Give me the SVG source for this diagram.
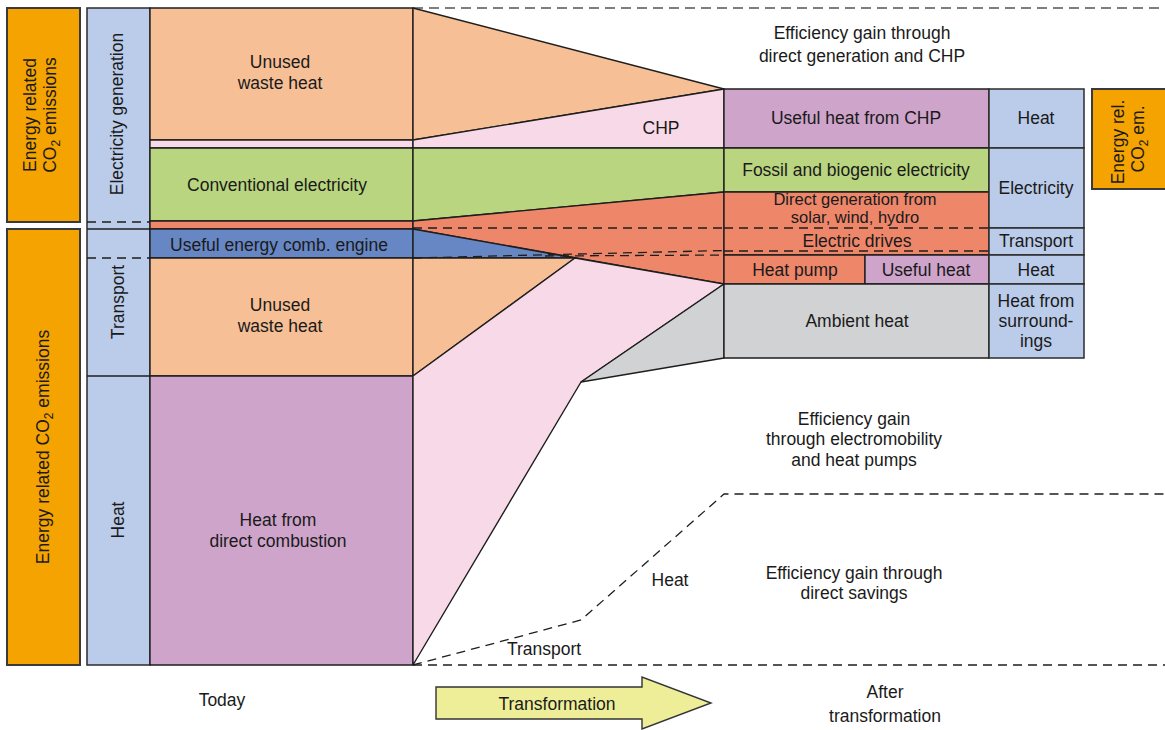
<svg xmlns="http://www.w3.org/2000/svg" width="1165" height="730" viewBox="0 0 1165 730">
<style>
text{font-family:"Liberation Sans",Arial,sans-serif;font-size:17.5px;fill:#1a1a1a;text-anchor:middle}
.tight{font-size:16.5px}
.org{fill:#F4A300;stroke:#3a3a3a;stroke-width:2}
.cat{fill:#BACCE9;stroke:#2b2b2b;stroke-width:1.5}
.b{stroke:#1e1e1e;stroke-width:1.4;stroke-linejoin:round}
.peach{fill:#F6BF95}
.pink{fill:#F8D9E7}
.green{fill:#B9D57F}
.red{fill:#EE866A}
.blue{fill:#6786C4}
.purple{fill:#CEA4CA}
.gray{fill:#D1D2D4}
.dash{fill:none;stroke:#1e1e1e;stroke-width:1.3;stroke-dasharray:9,6}
.gdash{fill:none;stroke:#555;stroke-width:1.5;stroke-dasharray:10,6}
.line{fill:none;stroke:#1e1e1e;stroke-width:1.4}
</style>
<rect width="1165" height="730" fill="#fff"/>

<!-- background dashed guide lines -->
<g id="guides">
<line class="gdash" x1="413" y1="8" x2="1165" y2="8"/>
<polyline class="dash" points="413,665 581,620 724,494 1165,494"/>
<line class="dash" x1="413" y1="665" x2="1165" y2="665"/>
</g>

<!-- left emission boxes -->
<g id="co2-left-top">
<rect class="org" x="7" y="8" width="73" height="214"/>
<text transform="translate(36,115) rotate(-90)">Energy related</text>
<text transform="translate(56,115) rotate(-90)">CO<tspan dy="4" font-size="12">2</tspan><tspan dy="-4"> emissions</tspan></text>
</g>
<g id="co2-left-bottom">
<rect class="org" x="7" y="229" width="73" height="436"/>
<text transform="translate(49,447) rotate(-90)">Energy related CO<tspan dy="4" font-size="12">2</tspan><tspan dy="-4"> emissions</tspan></text>
</g>

<!-- sector column -->
<g id="sectors">
<rect class="cat" x="87" y="8" width="63" height="657"/>
<line class="dash" x1="87" y1="222" x2="150" y2="222"/>
<line class="line" x1="87" y1="229" x2="150" y2="229"/>
<line class="dash" x1="87" y1="258" x2="150" y2="258"/>
<line class="line" x1="87" y1="376" x2="150" y2="376"/>
<text transform="translate(123,114) rotate(-90)">Electricity generation</text>
<text transform="translate(124,302) rotate(-90)">Transport</text>
<text transform="translate(124,520) rotate(-90)">Heat</text>
</g>

<!-- today column -->
<g id="today-waste-heat-elec"><rect class="b peach" x="150" y="8" width="263" height="132"/>
<text x="280" y="68">Unused</text><text x="280" y="89">waste heat</text></g>
<g id="today-chp"><rect class="b pink" x="150" y="140" width="263" height="8"/></g>
<g id="today-conv-elec"><rect class="b green" x="150" y="148" width="263" height="73"/>
<text x="277" y="191">Conventional electricity</text></g>
<g id="today-renew"><rect class="b red" x="150" y="221" width="263" height="8"/></g>
<g id="today-comb-engine"><rect class="b blue" x="150" y="229" width="263" height="29"/>
<text x="279" y="251">Useful energy comb. engine</text></g>
<g id="today-waste-heat-transport"><rect class="b peach" x="150" y="258" width="263" height="118"/>
<text x="280" y="311">Unused</text><text x="280" y="332">waste heat</text></g>
<g id="today-direct-heat"><rect class="b purple" x="150" y="376" width="263" height="289"/>
<text x="278" y="526">Heat from</text><text x="278" y="547">direct combustion</text></g>

<!-- flows -->
<g id="connectors">
<polygon class="b peach" points="413,8 724,89 413,140"/>
<polygon class="b pink" points="413,140 724,89 724,148 413,148"/>
<text x="661" y="134">CHP</text>
<polygon class="b green" points="413,148 724,148 724,192 413,221"/>
<polygon class="b red" points="413,221 724,192 724,284 413,229"/>
<polygon class="b blue" points="413,229 575,258 413,258"/>
<polygon class="b peach" points="413,258 575,258 413,376"/>
<polygon class="b pink" points="413,376 575,258 724,284 581,382 413,665"/>
<polygon class="b gray" points="724,284 724,358 581,382"/>
<line class="dash" x1="413" y1="228" x2="724" y2="228"/>
<line class="dash" x1="413" y1="258" x2="724" y2="250.5"/>
<line class="dash" x1="545" y1="256" x2="724" y2="255"/>
</g>

<!-- after column -->
<g id="after-chp-heat"><rect class="b purple" x="724" y="89" width="265" height="59"/>
<text x="856" y="124">Useful heat from CHP</text></g>
<g id="after-fossil-elec"><rect class="b green" x="724" y="148" width="265" height="44"/>
<text x="856" y="176">Fossil and biogenic electricity</text></g>
<g id="after-renew"><rect class="b red" x="724" y="192" width="265" height="63"/>
<text class="tight" x="855" y="205">Direct generation from</text><text class="tight" x="855" y="222.5">solar, wind, hydro</text>
<line class="dash" x1="724" y1="228" x2="989" y2="228"/>
<line class="dash" x1="724" y1="251" x2="989" y2="251"/>
<text x="857" y="247">Electric drives</text></g>
<g id="after-heat-pump"><rect class="b red" x="724" y="255" width="141" height="29"/>
<text x="795" y="276">Heat pump</text></g>
<g id="after-useful-heat"><rect class="b purple" x="865" y="255" width="124" height="29"/>
<text x="926" y="276">Useful heat</text></g>
<g id="after-ambient"><rect class="b gray" x="724" y="284" width="265" height="74"/>
<text x="857" y="327">Ambient heat</text></g>

<!-- right sector labels -->
<g id="label-heat-1"><rect class="cat" x="989" y="89" width="95" height="59"/><text x="1036" y="124">Heat</text></g>
<g id="label-electricity"><rect class="cat" x="989" y="148" width="95" height="80"/><text x="1036" y="194">Electricity</text></g>
<g id="label-transport"><rect class="cat" x="989" y="228" width="95" height="27"/><text x="1036" y="247">Transport</text></g>
<g id="label-heat-2"><rect class="cat" x="989" y="255" width="95" height="29"/><text x="1036" y="276">Heat</text></g>
<g id="label-surroundings"><rect class="cat" x="989" y="284" width="95" height="74"/>
<text x="1036" y="307">Heat from</text><text x="1036" y="327">surround-</text><text x="1036" y="347">ings</text></g>

<g id="co2-right">
<rect class="org" x="1092" y="89" width="80" height="100"/>
<text transform="translate(1124,142) rotate(-90)">Energy rel.</text>
<text transform="translate(1144,139) rotate(-90)">CO<tspan dy="4" font-size="12">2</tspan><tspan dy="-4"> em.</tspan></text>
</g>

<!-- annotations -->
<g id="annotations">
<text x="862" y="39">Efficiency gain through</text>
<text x="862" y="62">direct generation and CHP</text>
<text x="854" y="425">Efficiency gain</text>
<text x="854" y="445">through electromobility</text>
<text x="854" y="466">and heat pumps</text>
<text x="854" y="579">Efficiency gain through</text>
<text x="854" y="599">direct savings</text>
<text x="670" y="586">Heat</text>
<text x="544" y="655">Transport</text>
<text x="222" y="706">Today</text>
<text x="885" y="698">After</text>
<text x="885" y="722">transformation</text>
</g>

<g id="transformation-arrow">
<polygon points="436,687 642,687 642,677 711,703 642,729 642,719 436,719" fill="#EEEE99" stroke="#333" stroke-width="1.4" stroke-linejoin="miter"/>
<text x="557" y="710">Transformation</text>
</g>
</svg>
